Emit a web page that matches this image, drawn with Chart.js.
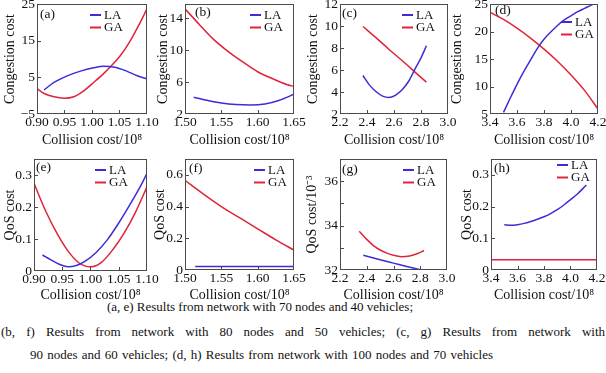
<!DOCTYPE html>
<html><head><meta charset="utf-8">
<script src="https://cdn.jsdelivr.net/npm/chart.js@4.4.1/dist/chart.umd.min.js"></script>
<style>
html,body{margin:0;padding:0;background:#fff;width:606px;height:373px;overflow:hidden;position:relative;}
canvas{position:absolute;}
.cap{position:absolute;font-family:"Liberation Serif","Times New Roman",serif;font-size:13px;line-height:16px;color:#111;white-space:nowrap;}
</style></head><body>
<div class="cap" data-w="306" style="left:107px;top:299px;">(a, e) Results from network with 70 nodes and 40 vehicles;</div>
<div class="cap" data-w="604" style="left:1px;top:324px;">(b, f) Results from network with 80 nodes and 50 vehicles; (c, g) Results from network with</div>
<div class="cap" data-w="463" style="left:30px;top:347px;">90 nodes and 60 vehicles; (d, h) Results from network with 100 nodes and 70 vehicles</div>
<script>
// ---------- data ----------
const seriesNames = ['LA', 'GA'];
const panelLabels = ['(a)', '(b)', '(c)', '(d)', '(e)', '(f)', '(g)', '(h)'];
const xTitle = 'Collision cost/10⁸';

// (a) congestion, 70 nodes / 40 vehicles
const aX_LA = [0.913, 0.931, 0.955, 0.979, 1.003, 1.021, 1.039, 1.063, 1.081, 1.099];
const aY_LA = [1.6, 3.6, 5.4, 6.7, 7.6, 8.0, 7.8, 6.7, 5.5, 4.6];
const aX_GA = [0.900, 0.913, 0.931, 0.949, 0.967, 0.985, 1.003, 1.021, 1.033, 1.051, 1.069, 1.087, 1.099];
const aY_GA = [1.9, 0.6, -0.3, -0.7, -0.3, 1.3, 3.6, 6.0, 7.8, 10.8, 14.8, 19.8, 23.4];
// (b) congestion, 80 nodes / 50 vehicles
const bX_LA = [1.512, 1.53, 1.55, 1.57, 1.59, 1.61, 1.63, 1.65];
const bY_LA = [4.1, 3.72, 3.38, 3.18, 3.12, 3.25, 3.72, 4.47];
const bX_GA = [1.50, 1.52, 1.54, 1.56, 1.58, 1.60, 1.62, 1.64, 1.65];
const bY_GA = [15.2, 13.2, 11.3, 9.8, 8.5, 7.3, 6.45, 5.7, 5.45];
// (c) congestion, 90 nodes / 60 vehicles
const cX_LA = [2.37, 2.42, 2.47, 2.52, 2.56, 2.61, 2.66, 2.71, 2.76, 2.80, 2.84];
const cY_LA = [5.5, 4.6, 4.0, 3.6, 3.5, 3.7, 4.2, 5.0, 6.2, 7.1, 8.2];
const cX_GA = [2.37, 2.47, 2.57, 2.67, 2.77, 2.84];
const cY_GA = [9.95, 8.9, 7.8, 6.75, 5.65, 4.9];
// (d) congestion, 100 nodes / 70 vehicles
const dX_LA = [3.50, 3.55, 3.60, 3.65, 3.70, 3.75, 3.80, 3.85, 3.90, 3.95, 4.00, 4.05, 4.10, 4.15, 4.17];
const dY_LA = [5.3, 7.9, 10.4, 12.7, 14.8, 16.9, 18.6, 19.9, 21.1, 22.1, 22.85, 23.6, 24.2, 24.8, 25.0];
const dX_GA = [3.40, 3.50, 3.60, 3.70, 3.80, 3.90, 4.00, 4.10, 4.20];
const dY_GA = [23.5, 22.2, 20.6, 18.8, 16.8, 14.6, 12.1, 9.3, 5.9];
// (e) QoS, 70 nodes / 40 vehicles
const eX_LA = [0.915, 0.93, 0.945, 0.96, 0.975, 0.99, 1.01, 1.03, 1.05, 1.07, 1.09, 1.10];
const eY_LA = [0.05, 0.035, 0.021, 0.013, 0.017, 0.03, 0.058, 0.098, 0.15, 0.208, 0.27, 0.305];
const eX_GA = [0.90, 0.92, 0.94, 0.96, 0.98, 1.00, 1.02, 1.04, 1.06, 1.08, 1.10];
const eY_GA = [0.274, 0.19, 0.12, 0.063, 0.025, 0.013, 0.028, 0.068, 0.12, 0.185, 0.263];
// (f) QoS, 80 nodes / 50 vehicles
const fX_LA = [1.514, 1.55, 1.60, 1.65];
const fY_LA = [0.022, 0.022, 0.022, 0.022];
const fX_GA = [1.50, 1.525, 1.55, 1.575, 1.60, 1.625, 1.65];
const fY_GA = [0.565, 0.48, 0.40, 0.33, 0.26, 0.19, 0.125];
// (g) QoS (x10^-3), 90 nodes / 60 vehicles
const gX_LA = [2.374, 2.50, 2.60, 2.70, 2.828];
const gY_LA = [32.66, 32.46, 32.31, 32.16, 31.97];
const gX_GA = [2.344, 2.40, 2.45, 2.50, 2.55, 2.60, 2.66, 2.72, 2.78, 2.828];
const gY_GA = [33.75, 33.38, 33.1, 32.9, 32.76, 32.66, 32.6, 32.63, 32.74, 32.88];
// (h) QoS, 100 nodes / 70 vehicles
const hX_LA = [3.50, 3.55, 3.60, 3.65, 3.70, 3.75, 3.80, 3.85, 3.90, 3.95, 4.00, 4.05, 4.12];
const hY_LA = [0.143, 0.141, 0.143, 0.147, 0.153, 0.16, 0.168, 0.178, 0.19, 0.205, 0.222, 0.239, 0.268];
const hX_GA = [3.40, 3.60, 3.80, 4.00, 4.20];
const hY_GA = [0.032, 0.032, 0.032, 0.032, 0.032];

// tick labels
const xTicks1 = [0.90, 0.95, 1.00, 1.05, 1.10];
const xTicks2 = [1.50, 1.55, 1.60, 1.65];
const xTicks3 = [2.2, 2.4, 2.6, 2.8, 3.0];
const xTicks4 = [3.4, 3.6, 3.8, 4.0, 4.2];
const yTicksA = [-5, 5, 15, 25];
const yTicksB = [2, 6, 10, 14];
const yTicksC = [2, 4, 6, 8, 10, 12];
const yTicksD = [5, 10, 15, 20, 25];
const yTicksE = [0, 0.1, 0.2, 0.3];
const yTicksF = [0, 0.2, 0.4, 0.6];
const yTicksG = [32, 34, 36];
const yMinorG = [33, 35];
const yTicksH = [0, 0.1, 0.2, 0.3];

// ---------- styling / layout ----------
const LA_COLOR = '#3d2dd6', GA_COLOR = '#e0233a';
const FONT = '"Liberation Serif", "Times New Roman", serif';
const TXT = '#111';
const FRAME = '#4a4a4a';

const fmt = (dec) => (v) => {
  if (v === 0) return '0';
  const s = Number(v).toFixed(dec);
  return s.replace('-', '\u2212');
};

const panels = [
  {frame:[37,4,147,114], xr:[0.9,1.1], xt:xTicks1, xf:fmt(2), yr:[-5,25], yt:yTicksA, yf:fmt(0), yTitle:'Congestion cost', yOff:27, xOff:26, leg:[53,11], lab:[3,10], la:[aX_LA,aY_LA], ga:[aX_GA,aY_GA]},
  {frame:[185,4,294,114], xr:[1.5,1.65], xt:xTicks2, xf:fmt(2), yr:[2,15.8], yt:yTicksB, yf:fmt(0), yTitle:'Congestion cost', yOff:22, xOff:26, leg:[65,11], lab:[10,8], la:[bX_LA,bY_LA], ga:[bX_GA,bY_GA]},
  {frame:[340,4,448,114], xr:[2.2,3.0], xt:xTicks3, xf:fmt(1), yr:[2,12], yt:yTicksC, yf:fmt(0), yTitle:'Congestion cost', yOff:27, xOff:26, leg:[62,11], lab:[2,9], la:[cX_LA,cY_LA], ga:[cX_GA,cY_GA]},
  {frame:[490,4,598,114], xr:[3.4,4.2], xt:xTicks4, xf:fmt(1), yr:[5,25], yt:yTicksD, yf:fmt(0), yTitle:'Congestion cost', yOff:33, xOff:26, leg:[71,18], lab:[5,6], la:[dX_LA,dY_LA], ga:[dX_GA,dY_GA]},
  {frame:[34,159,147,271], xr:[0.9,1.1], xt:xTicks1, xf:fmt(2), yr:[0,0.35], yt:yTicksE, yf:fmt(1), yTitle:'QoS cost', yOff:24, xOff:24, leg:[61,11], lab:[2,8], la:[eX_LA,eY_LA], ga:[eX_GA,eY_GA]},
  {frame:[185,159,294,270], xr:[1.5,1.65], xt:xTicks2, xf:fmt(2), yr:[0,0.7], yt:yTicksF, yf:fmt(1), yTitle:'QoS cost', yOff:25, xOff:25, leg:[69,11], lab:[4,9], la:[fX_LA,fY_LA], ga:[fX_GA,fY_GA]},
  {frame:[340,159,447,270], xr:[2.2,3.0], xt:xTicks3, xf:fmt(1), yr:[32,37], yt:yTicksG, yMinor:yMinorG, yf:fmt(0), yTitle:'QoS cost/10\u207B\u00B3', yOff:27.5, xOff:25, leg:[63,11], lab:[2,10], la:[gX_LA,gY_LA], ga:[gX_GA,gY_GA]},
  {frame:[491,159,597,270], xr:[3.4,4.2], xt:xTicks4, xf:fmt(1), yr:[0,0.35], yt:yTicksH, yf:fmt(1), yTitle:'QoS cost', yOff:24, xOff:25, leg:[66,6], lab:[3,9], la:[hX_LA,hY_LA], ga:[hX_GA,hY_GA]},
];

const toPts = (xs, ys) => xs.map((x, i) => ({x: x, y: ys[i]}));

const decoPlugin = {
  id: 'deco',
  afterDraw(chart, args, o) {
    const p = o.panel, idx = o.idx;
    const ctx = chart.ctx, ca = chart.chartArea;
    const xs = chart.scales.x, ys = chart.scales.y;
    ctx.save();
    ctx.strokeStyle = FRAME; ctx.lineWidth = 1;
    ctx.strokeRect(ca.left + 0.5, ca.top + 0.5, ca.right - ca.left - 1, ca.bottom - ca.top - 1);
    ctx.beginPath();
    p.xt.forEach(v => {
      const px = Math.round(xs.getPixelForValue(v)) + 0.5;
      if (px > ca.left + 2 && px < ca.right - 2) { ctx.moveTo(px, ca.bottom); ctx.lineTo(px, ca.bottom - 4); }
    });
    p.yt.concat(p.yMinor || []).forEach(v => {
      const py = Math.round(ys.getPixelForValue(v)) + 0.5;
      if (py > ca.top + 2 && py < ca.bottom - 2) { ctx.moveTo(ca.left, py); ctx.lineTo(ca.left + 4, py); }
    });
    ctx.stroke();
    ctx.font = '13px ' + FONT;
    ctx.textBaseline = 'middle'; ctx.textAlign = 'left';
    [LA_COLOR, GA_COLOR].forEach((c, k) => {
      const lx = ca.left + p.leg[0], ly = ca.top + p.leg[1] + k * 12.5;
      ctx.strokeStyle = c; ctx.lineWidth = 2;
      ctx.beginPath(); ctx.moveTo(lx, ly); ctx.lineTo(lx + 11, ly); ctx.stroke();
      ctx.fillStyle = TXT;
      ctx.fillText(chart.data.datasets[k].label, lx + 14, ly + 0.5);
    });
    ctx.font = '13.5px ' + FONT;
    ctx.fillStyle = TXT;
    ctx.fillText(panelLabels[idx], ca.left + p.lab[0], ca.top + p.lab[1]);
    ctx.restore();
  }
};

panels.forEach((p, idx) => {
  const [L, T, R, B] = p.frame;
  const padTop = 14, padRight = 18;
  const yw = Math.ceil(p.yOff + 8.4);
  const yTitlePad = yw - p.yOff - 8.4;
  const xh = Math.ceil(p.xOff + 8.4);
  const xTitlePad = xh - p.xOff - 8.4;
  const cw = (R - L) + yw + padRight;
  const ch = (B - T) + padTop + xh;
  const cv = document.createElement('canvas');
  cv.width = cw; cv.height = ch;
  cv.style.width = cw + 'px'; cv.style.height = ch + 'px';
  cv.style.left = (L - yw) + 'px'; cv.style.top = (T - padTop) + 'px';
  document.body.appendChild(cv);

  new Chart(cv, {
    type: 'line',
    data: {
      datasets: [
        {label: seriesNames[0], data: toPts(p.la[0], p.la[1]), borderColor: LA_COLOR, borderWidth: 1.5, pointRadius: 0, fill: false, cubicInterpolationMode: 'monotone'},
        {label: seriesNames[1], data: toPts(p.ga[0], p.ga[1]), borderColor: GA_COLOR, borderWidth: 1.5, pointRadius: 0, fill: false, cubicInterpolationMode: 'monotone'}
      ]
    },
    options: {
      responsive: false, animation: false, events: [],
      layout: {padding: {left: 0, top: padTop, right: padRight, bottom: 0}},
      plugins: {legend: {display: false}, tooltip: {enabled: false}, deco: {panel: p, idx: idx}},
      scales: {
        x: {
          type: 'linear', position: 'bottom', min: p.xr[0], max: p.xr[1],
          grid: {display: false, drawTicks: false}, border: {display: false},
          ticks: {padding: 0, autoSkip: false, maxRotation: 0, color: TXT, font: {family: FONT, size: 13.5}, callback: (v) => p.xf(v)},
          title: {display: true, text: xTitle, color: TXT, font: {family: FONT, size: 14}, padding: {top: 0, bottom: xTitlePad}},
          afterBuildTicks: (s) => { s.ticks = p.xt.map(v => ({value: v})); },
          afterFit: (s) => { s.height = xh; s.paddingLeft = 0; s.paddingRight = 0; s.paddingTop = 0; s.paddingBottom = 0; }
        },
        y: {
          type: 'linear', position: 'left', min: p.yr[0], max: p.yr[1],
          grid: {display: false, drawTicks: false}, border: {display: false},
          ticks: {padding: 2, autoSkip: false, color: TXT, font: {family: FONT, size: 13.5}, callback: (v) => p.yf(v)},
          title: {display: true, text: p.yTitle, color: TXT, font: {family: FONT, size: 14}, padding: {top: yTitlePad, bottom: 0}},
          afterBuildTicks: (s) => { s.ticks = p.yt.map(v => ({value: v})); },
          afterFit: (s) => { s.width = yw; s.paddingLeft = 0; s.paddingRight = 0; s.paddingTop = 0; s.paddingBottom = 0; }
        }
      }
    },
    plugins: [decoPlugin]
  });
});

// fit each caption line to the span it occupies in the figure
document.querySelectorAll('.cap').forEach(el => {
  const target = +el.dataset.w;
  const natural = el.getBoundingClientRect().width;
  const spaces = (el.textContent.match(/ /g) || []).length;
  if (spaces) el.style.wordSpacing = Math.max(-1, (target - natural) / spaces) + 'px';
});
</script>
</body></html>
